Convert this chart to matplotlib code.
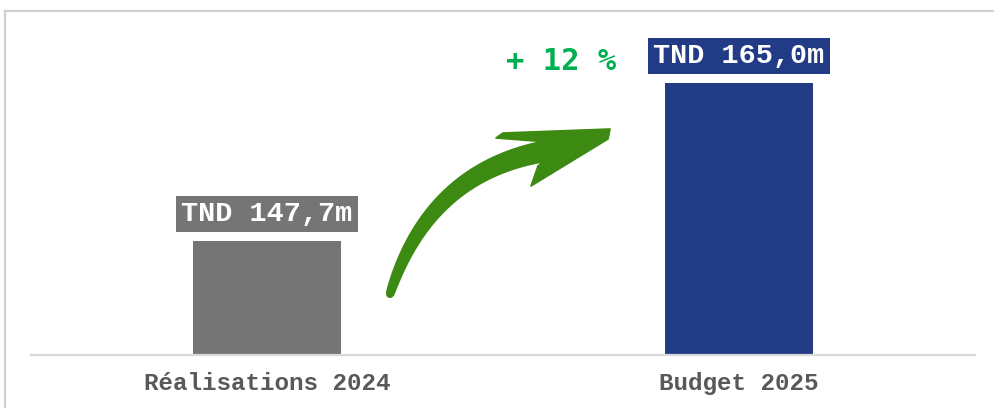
import numpy as np, matplotlib; matplotlib.use("Agg")
import matplotlib.pyplot as plt
from matplotlib.patches import Polygon, Circle
from matplotlib.lines import Line2D

categories = ["Réalisations 2024", "Budget 2025"]
values = [147.7, 165.0]
bar_colors = ["#757575", "#213B87"]
growth = round((values[1] / values[0] - 1) * 100)

W, H = 995, 408
fig = plt.figure(figsize=(W / 100, H / 100), dpi=100)
def fx(x): return x / W
def fy(y): return 1 - y / H

ax = fig.add_axes([fx(31), fy(355), fx(975) - fx(31), fy(20) - fy(355)])
x = np.arange(len(categories))
ax.bar(x, values, width=0.314, color=bar_colors, zorder=2)
ax.set_xlim(-0.5, 1.5)
ax.set_ylim(135.2, 171.9)
ax.set_xticks(x, categories, family="Liberation Mono", fontweight="bold", fontsize=17.5, color="#595959")
ax.tick_params(axis="x", length=0, pad=12.5)
ax.set_yticks([])
for s in ("top", "left", "right"):
    ax.spines[s].set_visible(False)
ax.spines["bottom"].set_color("#D9D9D9"); ax.spines["bottom"].set_linewidth(1.6)

for xi, v, c in zip(x, values, bar_colors):
    lab = f"TND {v:.1f}m".replace(".", ",")
    ax.annotate(lab, (xi, v), xytext=(0, 19.5), textcoords="offset points", ha="center", va="center",
                family="Liberation Mono", fontweight="bold", fontsize=20.5, color="white",
                bbox=dict(boxstyle="square,pad=0.18", fc=c, ec="none"))

fig.text(fx(561), fy(61), f"+ {growth} %", ha="center", va="center", family="DejaVu Sans Mono",
         fontweight="bold", fontsize=22, color="#00B050")

# curved arrow (decoration), built in pixel space
t = np.linspace(0, 1, 80)
p0, p1, p2 = np.array([390, 294]), np.array([428, 174]), np.array([541, 152])
pts = ((1 - t) ** 2)[:, None] * p0 + (2 * (1 - t) * t)[:, None] * p1 + (t ** 2)[:, None] * p2
d = np.gradient(pts, axis=0); d /= np.linalg.norm(d, axis=1)[:, None]
nrm = np.c_[d[:, 1], -d[:, 0]]
hw = 3.5 + 6.5 * t ** 0.7
upper = pts + nrm * hw[:, None]; lower = pts - nrm * hw[:, None]
if upper[-1, 1] > lower[-1, 1]: upper, lower = lower, upper
head = np.array([[548, 142], [496, 138], [503, 133], [610, 129], [608, 139], [531, 186], [538, 166]])
poly = np.vstack([upper, head, lower[::-1]])
fig.patches.append(Polygon(np.c_[poly[:, 0] / W, 1 - poly[:, 1] / H], closed=True,
                           transform=fig.transFigure, fc="#3C8A12", ec="#3C8A12", lw=1.2, joinstyle="round"))
ax_tail = fig.add_axes([fx(p0[0] - 4), fy(p0[1] + 4), 8 / W, 8 / H]); ax_tail.axis("off")
ax_tail.add_patch(Circle((0.5, 0.5), 0.5, fc="#3C8A12", ec="none"))

# outer frame
fig.add_artist(Line2D([fx(5), 1], [fy(11), fy(11)], color="#D0D0D0", lw=1.6))
fig.add_artist(Line2D([fx(5), fx(5)], [fy(11), 0], color="#D0D0D0", lw=1.6))

fig.savefig("out.png", dpi=100)
